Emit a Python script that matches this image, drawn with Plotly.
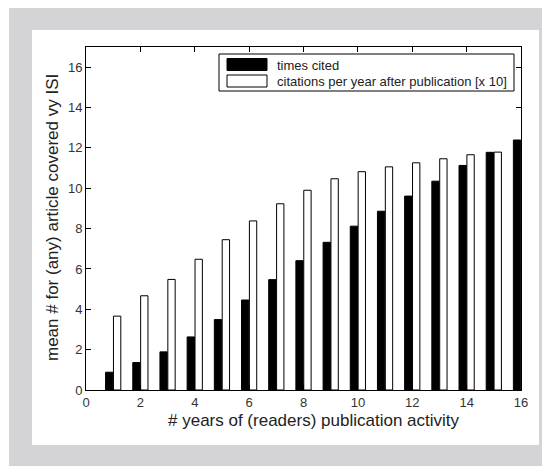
import plotly.graph_objects as go

years = list(range(1, 17))
times_cited = [0.88, 1.36, 1.89, 2.63, 3.49, 4.46, 5.47, 6.41, 7.32, 8.12, 8.86, 9.61, 10.35, 11.13, 11.78, 12.39]
cit_per_year_x10 = [3.66, 4.67, 5.48, 6.48, 7.45, 8.38, 9.23, 9.90, 10.47, 10.82, 11.06, 11.26, 11.46, 11.66, 11.79, None]
series_names = ["times cited", "citations per year after publication [x 10]"]
x_ticks = list(range(0, 17, 2))
y_ticks = list(range(0, 17, 2))

W, H = 550, 466
OFF = 8  # page body margin
L, R, T, B = 86 - OFF, 521 - OFF, 47 - OFF, 390 - OFF  # plot area in figure px
pw, ph = R - L, B - T

def px(x):
    return (x - OFF - L) / pw

def py(y):
    return (B - (y - OFF)) / ph

FONT = "Liberation Sans, Arial, Helvetica, sans-serif"

fig = go.Figure()
fig.add_trace(go.Bar(x=years, y=times_cited, name=series_names[0],
                     marker=dict(color="black", line=dict(color="black", width=1))))
fig.add_trace(go.Bar(x=years, y=cit_per_year_x10, name=series_names[1],
                     marker=dict(color="white", line=dict(color="black", width=1))))

shapes = [
    # grey frame and white panel
    dict(type="rect", xref="paper", yref="paper", x0=px(9), x1=px(560), y0=py(7), y1=py(480),
         fillcolor="#d4d4d6", line=dict(width=0), layer="below"),
    dict(type="rect", xref="paper", yref="paper", x0=px(32), x1=px(539), y0=py(30), y1=py(445),
         fillcolor="white", line=dict(width=0), layer="below"),
    # legend box
    dict(type="rect", xref="paper", yref="paper", x0=px(219), x1=px(514), y0=py(54), y1=py(91),
         fillcolor="white", line=dict(color="black", width=1), layer="above"),
    dict(type="rect", xref="paper", yref="paper", x0=px(227), x1=px(267), y0=py(58.5), y1=py(70.5),
         fillcolor="black", line=dict(color="black", width=1), layer="above"),
    dict(type="rect", xref="paper", yref="paper", x0=px(227), x1=px(267), y0=py(75), y1=py(87),
         fillcolor="white", line=dict(color="black", width=1), layer="above"),
]

annotations = [
    dict(xref="paper", yref="paper", x=px(275), y=py(65), text=series_names[0], showarrow=False,
         xanchor="left", yanchor="middle", font=dict(family=FONT, size=13, color="#222")),
    dict(xref="paper", yref="paper", x=px(275), y=py(81.5), text=series_names[1], showarrow=False,
         xanchor="left", yanchor="middle", font=dict(family=FONT, size=13, color="#222")),
    dict(xref="paper", yref="paper", x=px(314), y=py(420), text="# years of (readers) publication activity",
         showarrow=False, xanchor="center", yanchor="middle", font=dict(family=FONT, size=17, color="#222")),
    dict(xref="paper", yref="paper", x=px(53), y=py(218), text="mean # for (any) article covered vy ISI",
         textangle=-90, showarrow=False, xanchor="center", yanchor="middle",
         font=dict(family=FONT, size=17, color="#222")),
]

fig.update_layout(
    width=W, height=H,
    margin=dict(l=L, r=W - R, t=T, b=H - B, pad=0),
    paper_bgcolor="white", plot_bgcolor="white",
    barmode="group", bargap=0.42, bargroupgap=0.07,
    showlegend=False,
    font=dict(family=FONT, size=13, color="#333"),
    shapes=shapes, annotations=annotations,
)
fig.update_xaxes(range=[0, 16], tickmode="array", tickvals=x_ticks, ticktext=[str(v) for v in x_ticks],
                 ticks="inside", ticklen=5, tickcolor="black", showline=True, linecolor="black", linewidth=1,
                 mirror="ticks", showgrid=False, zeroline=False, automargin=False,
                 tickfont=dict(family=FONT, size=13, color="#333"))
fig.update_yaxes(range=[0, 17], tickmode="array", tickvals=y_ticks, ticktext=[str(v) for v in y_ticks],
                 ticks="inside", ticklen=5, tickcolor="black", showline=True, linecolor="black", linewidth=1,
                 mirror="ticks", showgrid=False, zeroline=False, automargin=False,
                 tickfont=dict(family=FONT, size=13, color="#333"))

fig.write_html("out.html")
